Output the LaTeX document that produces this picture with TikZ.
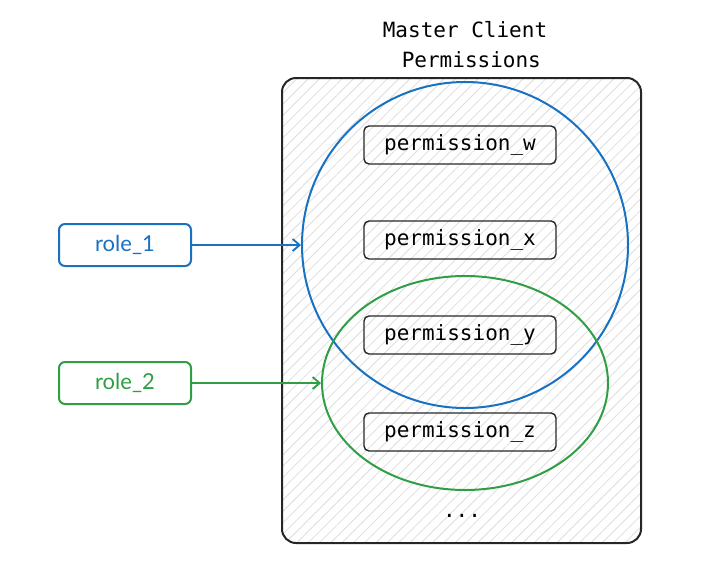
\documentclass[tikz,border=0pt]{standalone}
\usepackage{fontspec}
\setmainfont{Lato}
\newfontfamily\monof{DejaVu Sans Mono}
\usetikzlibrary{patterns.meta,arrows.meta,shapes.geometric}
\definecolor{eblue}{HTML}{1971C2}
\definecolor{egreen}{HTML}{2F9E44}
\definecolor{hatch}{HTML}{DDDDDD}
\begin{document}
\begin{tikzpicture}[x=1pt,y=-1pt,
  perm/.style={draw=black!85,line width=1.4pt,rounded corners=5pt,minimum width=192pt,minimum height=38pt,font=\monof\fontsize{21}{24}\selectfont},
  role/.style={draw=#1,line width=2pt,rounded corners=6pt,minimum width=132pt,minimum height=42pt,text=#1,font=\fontsize{22}{26}\selectfont},
  arr/.style={draw=#1,line width=1.8pt,-{Straight Barb[length=7pt,width=12pt]}}]
\useasboundingbox (0,0) rectangle (720,568);
\node[draw=black!85,line width=2pt,rounded corners=14pt,minimum width=359pt,minimum height=465pt,
  pattern={Lines[angle=45,distance=8pt,line width=0.8pt]},pattern color=hatch] (box) at (461.5,310.5) {};
\node[font=\monof\fontsize{21}{30}\selectfont,align=center] (title) at (465,45) {Master Client\\ \ Permissions};
\node[draw=eblue,line width=2pt,circle,minimum size=326pt] (c1) at (465,245) {};
\node[draw=egreen,line width=2pt,ellipse,minimum width=286pt,minimum height=214pt] (c2) at (465,383) {};
\node[perm] (pw) at (460,145) {permission\_w};
\node[perm] (px) at (460,240) {permission\_x};
\node[perm] (py) at (460,335) {permission\_y};
\node[perm] (pz) at (460,432) {permission\_z};
\node[font=\monof\fontsize{21}{24}\selectfont] (dots) at (462,516) {...};
\node[role=eblue] (r1) at (125,245) {role\_1};
\node[role=egreen] (r2) at (125,383) {role\_2};
\draw[arr=eblue] (r1) -- (c1.west);
\draw[arr=egreen] (r2) -- (c2.west);
\end{tikzpicture}
\end{document}
